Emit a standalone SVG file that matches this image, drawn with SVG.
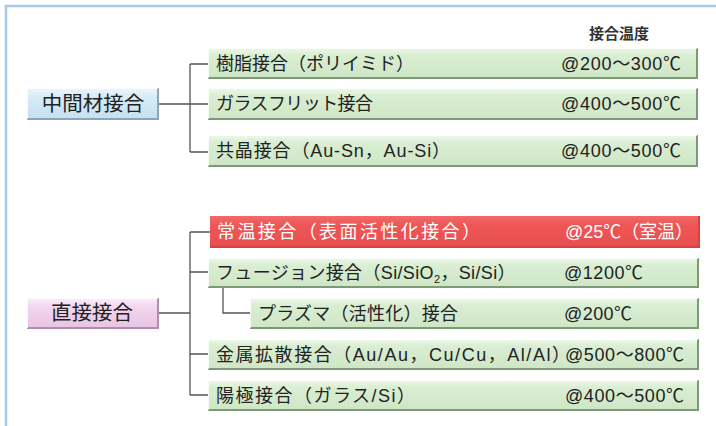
<svg xmlns="http://www.w3.org/2000/svg" width="716" height="426" viewBox="0 0 716 426">
<defs>
<linearGradient id="gGreen" x1="0" y1="0" x2="0" y2="1">
<stop offset="0" stop-color="#eef8ea"/><stop offset="0.25" stop-color="#d9eed2"/><stop offset="1" stop-color="#cfe6c6"/>
</linearGradient>
<linearGradient id="gBlue" x1="0" y1="0" x2="0" y2="1">
<stop offset="0" stop-color="#eef7fc"/><stop offset="0.3" stop-color="#d6ebf6"/><stop offset="1" stop-color="#c6e0f0"/>
</linearGradient>
<linearGradient id="gPink" x1="0" y1="0" x2="0" y2="1">
<stop offset="0" stop-color="#fbeefa"/><stop offset="0.3" stop-color="#f2d6ef"/><stop offset="1" stop-color="#e8c4e4"/>
</linearGradient>
<linearGradient id="gRed" x1="0" y1="0" x2="0" y2="1">
<stop offset="0" stop-color="#f26a6a"/><stop offset="0.3" stop-color="#ee5656"/><stop offset="1" stop-color="#e84e50"/>
</linearGradient>
</defs>
<style>
.t{font-family:"Liberation Sans","Noto Sans CJK JP",sans-serif;font-size:18px;fill:#222}
.w{fill:#ffffff}
.lb{font-family:"Noto Sans CJK JP","Noto Sans",sans-serif;font-size:20.5px;fill:#222;text-anchor:middle}
.hd{font-family:"Noto Sans CJK JP","Noto Sans",sans-serif;font-size:15px;fill:#333;text-anchor:middle;font-weight:bold}
.g{fill:url(#gGreen)}
.edgeG{fill:none;stroke:#7d9a76;stroke-width:2}
.edgeB{fill:none;stroke:#8aa6b8;stroke-width:2}
.edgeP{fill:none;stroke:#b08cae;stroke-width:2}
.edgeR{fill:none;stroke:#d04446;stroke-width:2}
.hl{fill:none;stroke:#ffffff;stroke-width:1;opacity:0.8}
.c{fill:none;stroke:#555;stroke-width:1.3}
</style>
<rect x="0" y="0" width="716" height="426" fill="#ffffff"/>
<path d="M6 426 V6 H716" fill="none" stroke="#a8c8ec" stroke-width="2.6"/>
<text class="hd" x="619" y="39">接合温度</text>
<g id="connectors">
<path class="c" d="M159 104 H190 M190 64 V152 M190 64 H208 M190 104 H208 M190 152 H208"/>
<path class="c" d="M159 313 H190 M190 232 V395 M190 232 H210 M190 272 H208 M190 354 H208 M190 395 H208 M223 287 V313 H250"/>
</g>
<g id="n-chukan">
<rect x="27" y="88" width="132" height="31" fill="url(#gBlue)"/>
<path class="edgeB" d="M158 88 V119 H27"/>
<path class="hl" d="M27.5 119 V88.5 H158"/>
<text class="lb" x="93" y="111">中間材接合</text>
</g>
<g id="n-jushi">
<rect class="g" x="208" y="48" width="490" height="30"/>
<path class="edgeG" d="M697 48 V78 H208"/>
<path class="hl" d="M208.5 78 V48.5 H697"/>
<text class="t" x="216" y="70" textLength="198">樹脂接合（ポリイミド）</text>
<text class="t" x="561" y="70" textLength="120">@200～300℃</text>
</g>
<g id="n-glass">
<rect class="g" x="208" y="88" width="490" height="31"/>
<path class="edgeG" d="M697 88 V119 H208"/>
<path class="hl" d="M208.5 119 V88.5 H697"/>
<text class="t" x="216" y="110" textLength="157">ガラスフリット接合</text>
<text class="t" x="561" y="110" textLength="120">@400～500℃</text>
</g>
<g id="n-kyosho">
<rect class="g" x="208" y="135" width="490" height="31"/>
<path class="edgeG" d="M697 135 V166 H208"/>
<path class="hl" d="M208.5 166 V135.5 H697"/>
<text class="t" x="216" y="157" textLength="234">共晶接合（Au-Sn，Au-Si）</text>
<text class="t" x="561" y="157" textLength="120">@400～500℃</text>
</g>
<g id="n-chokusetsu">
<rect x="27" y="298" width="132" height="30" fill="url(#gPink)"/>
<path class="edgeP" d="M158 298 V328 H27"/>
<path class="hl" d="M27.5 328 V298.5 H158"/>
<text class="lb" x="92" y="320">直接接合</text>
</g>
<g id="n-jouon">
<rect x="210" y="216" width="490" height="31" fill="url(#gRed)"/>
<path class="edgeR" d="M699 216 V247 H210"/>
<text class="t w" x="217" y="238" textLength="263">常温接合（表面活性化接合）</text>
<text class="t w" x="565" y="238" textLength="128">@25℃（室温）</text>
</g>
<g id="n-fusion">
<rect class="g" x="208" y="258" width="491" height="29"/>
<path class="edgeG" d="M698 258 V287 H208"/>
<path class="hl" d="M208.5 287 V258.5 H698"/>
<text class="t" x="216" y="279" letter-spacing="0.35">フュージョン接合（Si/SiO<tspan font-size="11" dy="4">2</tspan><tspan dy="-4">，Si/Si）</tspan></text>
<text class="t" x="564" y="279" textLength="79">@1200℃</text>
</g>
<g id="n-plasma">
<rect class="g" x="250" y="298" width="449" height="30"/>
<path class="edgeG" d="M698 298 V328 H250"/>
<path class="hl" d="M250.5 328 V298.5 H698"/>
<text class="t" x="258" y="320" textLength="200">プラズマ（活性化）接合</text>
<text class="t" x="564" y="320" textLength="68">@200℃</text>
</g>
<g id="n-kinzoku">
<rect class="g" x="208" y="339" width="491" height="30"/>
<path class="edgeG" d="M698 339 V369 H208"/>
<path class="hl" d="M208.5 369 V339.5 H698"/>
<text class="t" x="216" y="361" textLength="354">金属拡散接合（Au/Au，Cu/Cu，Al/Al）</text>
<text class="t" x="565" y="361" textLength="119">@500～800℃</text>
</g>
<g id="n-yokyoku">
<rect class="g" x="208" y="380" width="491" height="30"/>
<path class="edgeG" d="M698 380 V410 H208"/>
<path class="hl" d="M208.5 410 V380.5 H698"/>
<text class="t" x="216" y="402" textLength="199">陽極接合（ガラス/Si）</text>
<text class="t" x="565" y="402" textLength="119">@400～500℃</text>
</g>
</svg>
